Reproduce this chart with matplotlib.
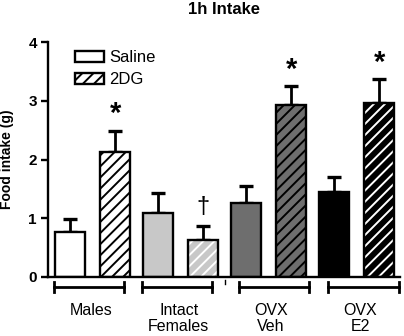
import numpy as np
import matplotlib.pyplot as plt
from matplotlib.patches import Patch

plt.rcParams['font.family'] = ['Liberation Sans', 'DejaVu Sans']
plt.rcParams['hatch.linewidth'] = 1.4

groups = ["Males", "Intact\nFemales", "OVX\nVeh", "OVX\nE2"]
saline = [0.77, 1.09, 1.26, 1.45]
saline_err = [0.22, 0.34, 0.29, 0.26]
dg = [2.13, 0.63, 2.93, 2.96]
dg_err = [0.36, 0.24, 0.32, 0.41]
marks = ["*", "\u2020", "*", "*"]   # symbol above 2DG bar

fill = ["white", "#c8c8c8", "#6e6e6e", "black"]
hatch_col = ["black", "white", "black", "white"]

fig = plt.figure(figsize=(4.04, 3.36), dpi=100)
ax = fig.add_axes([48/404, 59/336, 352/404, 235/336])

x = np.arange(len(groups))
off = 0.256
w = 0.34

for i in range(len(groups)):
    # saline bar
    ax.bar(x[i] - off, saline[i], w, color=fill[i], edgecolor="black", linewidth=1.7, zorder=2)
    # 2DG bar: hatch layer then outline
    ax.bar(x[i] + off, dg[i], w, color=fill[i], edgecolor=hatch_col[i], hatch="///", linewidth=0, zorder=2)
    ax.bar(x[i] + off, dg[i], w, color="none", edgecolor="black", linewidth=1.7, zorder=3)

ax.errorbar(x - off, saline, yerr=[np.zeros(4), saline_err], fmt="none", ecolor="black",
            elinewidth=2, capsize=5, capthick=2.4, zorder=1)
ax.errorbar(x + off, dg, yerr=[np.zeros(4), dg_err], fmt="none", ecolor="black",
            elinewidth=2, capsize=5, capthick=2.4, zorder=1)

for i in range(len(groups)):
    top = dg[i] + dg_err[i]
    if marks[i] == "*":
        ax.text(x[i] + off, top + 0.28, "*", ha="center", va="center", fontsize=21, fontweight="bold")
    else:
        ax.text(x[i] + off, top + 0.32, marks[i], ha="center", va="center", fontsize=17)

# group brackets below the axis
shift = [-0.04, -0.04, 0.06, 0.08]
for i in range(len(groups)):
    l = x[i] - 0.4 + shift[i]
    r = x[i] + 0.4 + shift[i]
    ax.plot([l, r], [-0.17, -0.17], color="black", lw=2, clip_on=False)
    ax.plot([l, l], [-0.08, -0.26], color="black", lw=2, clip_on=False)
    ax.plot([r, r], [-0.08, -0.26], color="black", lw=2, clip_on=False)
    ax.text(x[i] + shift[i] / 2, -0.44, groups[i], ha="center", va="top", fontsize=11.5,
            linespacing=1.1)
ax.plot([1.5, 1.5], [-0.05, -0.12], color="black", lw=1, clip_on=False)

ax.set_xlim(-0.506, 3.494)
ax.set_ylim(0, 4)
ax.set_yticks([0, 1, 2, 3, 4])
ax.set_xticks([])
for lab in ax.get_yticklabels():
    lab.set_fontweight("bold")
ax.tick_params(axis="y", length=5, width=1.7, labelsize=11, pad=3)
ax.spines["top"].set_visible(False)
ax.spines["right"].set_visible(False)
ax.spines["left"].set_linewidth(1.7)
ax.spines["bottom"].set_linewidth(1.7)
ax.set_ylabel("Food intake (g)", fontsize=10, fontweight="bold")
ax.yaxis.set_label_coords(-0.098, 0.5)
ax.set_title("1h Intake", fontsize=12, fontweight="bold", pad=20)

handles = [Patch(facecolor="white", edgecolor="black", linewidth=1.7),
           Patch(facecolor="white", edgecolor="black", hatch="///", linewidth=1.7)]
ax.legend(handles, ["Saline", "2DG"], loc="upper left", bbox_to_anchor=(0.035, 1.03),
          frameon=False, fontsize=12, handlelength=1.7, handleheight=0.65,
          labelspacing=0.45, handletextpad=0.35)

fig.savefig("out.png", dpi=100)
